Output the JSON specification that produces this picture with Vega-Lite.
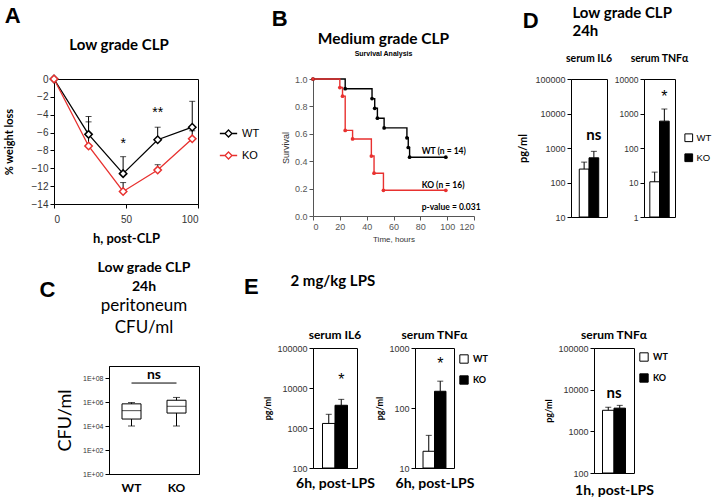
{
  "$schema": "https://vega.github.io/schema/vega-lite/v6.json",
  "background": "white",
  "padding": {"left": 2, "top": 4, "right": 2, "bottom": 2},
  "config": {
    "view": {"stroke": "black", "strokeWidth": 1},
    "font": "Liberation Sans",
    "axis": {"grid": false, "domainColor": "black", "tickColor": "black", "labelColor": "#333", "labelFont": "Liberation Sans", "labelFontSize": 9, "tickSize": 4, "labelOverlap": false, "titleFont": "Lato", "titleFontWeight": "bold", "titleColor": "black"},
    "title": {"font": "Lato", "fontWeight": "bold", "color": "black", "fontSize": 14, "subtitleColor": "black"},
    "legend": {"labelFont": "Liberation Sans", "labelFontSize": 10, "labelColor": "black"}
  },
  "resolve": {"scale": {"fill": "independent", "stroke": "independent", "color": "independent"}, "legend": {"fill": "independent", "stroke": "independent", "color": "independent"}},
  "spacing": -16,
  "hconcat": [
    {
      "spacing": 14,
      "resolve": {"scale": {"fill": "independent", "stroke": "independent", "color": "independent"}, "legend": {"fill": "independent", "stroke": "independent", "color": "independent"}},
      "vconcat": [
        {
          "title": {"text": "A", "orient": "left", "anchor": "end", "angle": 0, "align": "right", "baseline": "top", "fontSize": 22, "font": "Liberation Sans", "offset": -34, "dy": -32},
          "vconcat": [
            {
              "width": 144, "height": 125,
              "title": {"text": "Low grade CLP", "fontSize": 15, "offset": 19, "frame": "group", "dx": -7},
              "data": {"values": [
                {"t": 0, "g": "WT", "m": 0, "hi": 0},
                {"t": 24, "g": "WT", "m": -6.2, "hi": -4.2},
                {"t": 48, "g": "WT", "m": -10.6, "hi": -8.7},
                {"t": 72, "g": "WT", "m": -6.8, "hi": -5.4},
                {"t": 96, "g": "WT", "m": -5.4, "hi": -2.5},
                {"t": 0, "g": "KO", "m": 0, "hi": 0},
                {"t": 24, "g": "KO", "m": -7.5, "hi": -4.8},
                {"t": 48, "g": "KO", "m": -12.6, "hi": -11.6},
                {"t": 72, "g": "KO", "m": -10.2, "hi": -9.6},
                {"t": 96, "g": "KO", "m": -6.7, "hi": -5.8}
              ]},
              "encoding": {
                "x": {"field": "t", "type": "quantitative", "scale": {"domain": [0, 100]}, "axis": {"values": [0, 50, 100], "title": "h, post-CLP", "titleFontSize": 13, "titlePadding": 8, "labelFontSize": 10, "labelPadding": 6}}
              },
              "layer": [
                {"mark": {"type": "rule", "color": "black"}, "encoding": {"y": {"field": "m", "type": "quantitative", "title": "% weight loss", "scale": {"domain": [-14, 0]}, "axis": {"values": [-14, -12, -10, -8, -6, -4, -2, 0], "labelOverlap": false, "titleFontSize": 11, "labelFontSize": 10, "titlePadding": 17}}, "y2": {"field": "hi"}}},
                {"mark": {"type": "tick", "orient": "horizontal", "color": "black", "size": 6, "thickness": 1}, "encoding": {"y": {"field": "hi", "type": "quantitative", "title": "% weight loss", "axis": {"values": [-14, -12, -10, -8, -6, -4, -2, 0], "labelOverlap": false, "titleFontSize": 11, "labelFontSize": 10, "titlePadding": 17}}}},
                {"mark": {"type": "line", "strokeWidth": 1.3}, "encoding": {"y": {"field": "m", "type": "quantitative", "title": "% weight loss", "axis": {"values": [-14, -12, -10, -8, -6, -4, -2, 0], "labelOverlap": false, "titleFontSize": 11, "labelFontSize": 10, "titlePadding": 17}}, "stroke": {"field": "g", "type": "nominal", "scale": {"domain": ["WT", "KO"], "range": ["black", "#e8312f"]}, "legend": {"title": null, "orient": "none", "legendX": 165, "legendY": 45, "symbolType": "M-1,0H-0.4M0.4,0H1M0,-0.4L0.4,0L0,0.4L-0.4,0Z", "symbolSize": 300, "symbolFillColor": "white", "symbolStrokeWidth": 1.3, "labelFontSize": 11, "rowPadding": 6}}}},
                {"mark": {"type": "point", "shape": "diamond", "filled": true, "fill": "white", "size": 55, "strokeWidth": 1.5, "opacity": 1}, "encoding": {"y": {"field": "m", "type": "quantitative", "title": "% weight loss", "axis": {"values": [-14, -12, -10, -8, -6, -4, -2, 0], "labelOverlap": false, "titleFontSize": 11, "labelFontSize": 10, "titlePadding": 17}}, "stroke": {"field": "g", "type": "nominal", "scale": {"domain": ["WT", "KO"], "range": ["black", "#e8312f"]}, "legend": {"title": null, "orient": "none", "legendX": 165, "legendY": 45, "symbolType": "M-1,0H-0.4M0.4,0H1M0,-0.4L0.4,0L0,0.4L-0.4,0Z", "symbolSize": 300, "symbolFillColor": "white", "symbolStrokeWidth": 1.3, "labelFontSize": 11, "rowPadding": 6}}}},
                {"data": {"values": [{"t": 48, "y": -7.3, "s": "*"}, {"t": 72, "y": -3.8, "s": "**"}]}, "mark": {"type": "text", "fontSize": 14, "font": "Liberation Sans"}, "encoding": {"y": {"field": "y", "type": "quantitative", "title": "% weight loss", "axis": {"values": [-14, -12, -10, -8, -6, -4, -2, 0], "labelOverlap": false, "titleFontSize": 11, "labelFontSize": 10, "titlePadding": 17}}, "text": {"field": "s"}}}
              ]
            }
          ]
        },
        {
          "spacing": 0,
          "resolve": {"scale": {"fill": "independent", "stroke": "independent", "color": "independent"}, "legend": {"fill": "independent", "stroke": "independent", "color": "independent"}},
          "hconcat": [
            {
              "width": 1, "height": 1,
              "view": {"stroke": null},
              "title": {"text": "C", "fontSize": 22, "font": "Liberation Sans", "offset": 64, "dx": -7},
              "mark": {"type": "text"},
              "encoding": {"text": {"value": ""}}
            },
            {
              "width": 90, "height": 108,
              "title": {"text": ["Low grade CLP", "24h"], "fontSize": 14, "lineHeight": 19, "subtitle": ["peritoneum", "CFU/ml"], "subtitleFont": "Lato", "subtitleFontSize": 17, "subtitleLineHeight": 22, "subtitleColor": "black", "subtitlePadding": 4, "offset": 30, "frame": "group", "dx": -10},
              "data": {"values": [
                {"g": "WT", "mn": 10000, "q1": 38000, "md": 190000, "q3": 700000, "mx": 900000},
                {"g": "KO", "mn": 10000, "q1": 120000, "md": 440000, "q3": 1400000, "mx": 2400000}
              ]},
              "encoding": {"x": {"field": "g", "type": "nominal", "scale": {"domain": ["WT", "KO"], "paddingInner": 0, "paddingOuter": 0}, "axis": {"title": null, "labelAngle": 0, "labelFont": "Lato", "labelFontWeight": "bold", "labelFontSize": 12, "labelColor": "black", "ticks": false, "labelPadding": 8}}},
              "layer": [
                {"mark": {"type": "rule", "color": "black"}, "encoding": {"y": {"field": "mn", "type": "quantitative", "title": "CFU/ml", "scale": {"type": "log", "domain": [1, 1000000000]}, "axis": {"values": [1, 100, 10000, 1000000, 100000000], "labelExpr": "'1E+' + (round(log(datum.value)/LN10) < 10 ? '0' : '') + round(log(datum.value)/LN10)", "labelFontSize": 7, "titleFont": "Lato", "titleFontWeight": "normal", "titleFontSize": 18, "titlePadding": 8}}, "y2": {"field": "mx"}}},
                {"mark": {"type": "bar", "fill": "white", "stroke": "black", "strokeWidth": 1, "size": 19}, "encoding": {"y": {"field": "q1", "type": "quantitative", "title": "CFU/ml"}, "y2": {"field": "q3"}}},
                {"mark": {"type": "tick", "orient": "horizontal", "color": "black", "size": 19, "thickness": 1}, "encoding": {"y": {"field": "md", "type": "quantitative", "title": "CFU/ml"}}},
                {"mark": {"type": "tick", "orient": "horizontal", "color": "black", "size": 7, "thickness": 1}, "encoding": {"y": {"field": "mn", "type": "quantitative", "title": "CFU/ml"}}},
                {"mark": {"type": "tick", "orient": "horizontal", "color": "black", "size": 7, "thickness": 1}, "encoding": {"y": {"field": "mx", "type": "quantitative", "title": "CFU/ml"}}},
                {"data": {"values": [{"g": "WT", "b": "KO", "y": 38000000, "s": "ns"}]}, "layer": [
                  {"mark": {"type": "rule", "color": "black"}, "encoding": {"x2": {"field": "b"}, "y": {"field": "y", "type": "quantitative", "title": "CFU/ml"}}},
                  {"mark": {"type": "text", "font": "Lato", "fontWeight": "bold", "fontSize": 14, "baseline": "bottom", "dy": -1}, "encoding": {"x": {"field": "g", "type": "nominal", "bandPosition": 1}, "y": {"field": "y", "type": "quantitative", "title": "CFU/ml"}, "text": {"field": "s"}}}
                ]}
              ]
            }
          ]
        }
      ]
    },
    {
      "spacing": 30,
      "resolve": {"scale": {"fill": "independent", "stroke": "independent", "color": "independent"}, "legend": {"fill": "independent", "stroke": "independent", "color": "independent"}},
      "vconcat": [
        {
          "spacing": 36,
          "resolve": {"scale": {"fill": "independent", "stroke": "independent", "color": "independent"}, "legend": {"fill": "independent", "stroke": "independent", "color": "independent"}},
          "hconcat": [
            {
              "title": {"text": "B", "orient": "left", "anchor": "end", "angle": 0, "align": "right", "baseline": "top", "fontSize": 22, "font": "Liberation Sans", "offset": -22, "dy": -23},
              "vconcat": [
                {
                  "width": 161, "height": 137,
                  "view": {"stroke": null},
                  "title": {"text": "Medium grade CLP", "fontSize": 15.5, "dx": -10, "subtitle": "Survival Analysis", "subtitleFontSize": 7, "subtitleFontWeight": "bold", "subtitleFont": "Liberation Sans", "subtitlePadding": 3, "offset": 18},
                  "data": {"values": [
                    {"t": 0, "v": 1, "g": "WT"}, {"t": 24, "v": 0.929, "g": "WT"}, {"t": 44, "v": 0.857, "g": "WT"}, {"t": 46, "v": 0.786, "g": "WT"}, {"t": 48, "v": 0.714, "g": "WT"}, {"t": 53, "v": 0.643, "g": "WT"}, {"t": 70, "v": 0.571, "g": "WT"}, {"t": 71, "v": 0.5, "g": "WT"}, {"t": 72, "v": 0.429, "g": "WT"}, {"t": 99, "v": 0.429, "g": "WT"},
                    {"t": 0, "v": 1, "g": "KO"}, {"t": 20, "v": 0.9375, "g": "KO"}, {"t": 22, "v": 0.875, "g": "KO"}, {"t": 24, "v": 0.625, "g": "KO"}, {"t": 29.5, "v": 0.5625, "g": "KO"}, {"t": 43.5, "v": 0.4375, "g": "KO"}, {"t": 45.5, "v": 0.3125, "g": "KO"}, {"t": 52.5, "v": 0.1875, "g": "KO"}, {"t": 99, "v": 0.1875, "g": "KO"}
                  ]},
                  "encoding": {
                    "x": {"field": "t", "type": "quantitative", "scale": {"domain": [0, 120]}, "axis": {"values": [0, 20, 40, 60, 80, 100, 120], "title": "Time, hours", "titleFont": "Liberation Sans", "titleFontWeight": "normal", "titleFontSize": 8, "titleColor": "#333", "titlePadding": 4, "domainColor": "#555", "tickColor": "#555", "labelColor": "#555", "labelFontSize": 9}},
                    "y": {"field": "v", "type": "quantitative", "scale": {"domain": [0, 1]}, "axis": {"values": [0, 0.2, 0.4, 0.6, 0.8, 1], "format": ".1f", "title": "Survival", "titleFont": "Liberation Sans", "titleFontWeight": "normal", "titleFontSize": 9, "titleColor": "#333", "titlePadding": 4, "domainColor": "#555", "tickColor": "#555", "labelColor": "#555", "labelFontSize": 9}},
                    "color": {"field": "g", "type": "nominal", "scale": {"domain": ["WT", "KO"], "range": ["black", "#e8312f"]}, "legend": null}
                  },
                  "layer": [
                    {"mark": {"type": "line", "interpolate": "step-after", "strokeWidth": 1.4}},
                    {"mark": {"type": "circle", "size": 14, "opacity": 1}},
                    {"data": {"values": [{"t": 81, "v": 0.474, "s": "WT (n = 14)"}, {"t": 81, "v": 0.226, "s": "KO (n = 16)"}, {"t": 81, "v": 0.066, "s": "p-value = 0.031"}]}, "mark": {"type": "text", "align": "left", "font": "Lato", "fontWeight": "bold", "fontSize": 8.5, "color": "black"}, "encoding": {"text": {"field": "s"}, "color": {"value": "black"}}}
                  ]
                }
              ]
            },
            {
              "title": {"text": "D", "orient": "left", "anchor": "end", "angle": 0, "align": "right", "baseline": "top", "fontSize": 22, "font": "Liberation Sans", "offset": -37, "dy": 5},
              "vconcat": [
                {
                  "title": {"text": ["Low grade CLP", "24h"], "fontSize": 15, "lineHeight": 18, "offset": 14, "dx": 55},
                  "spacing": 0,
                  "resolve": {"scale": {"fill": "independent", "stroke": "independent", "color": "independent"}, "legend": {"fill": "independent", "stroke": "independent", "color": "independent"}},
                  "hconcat": [
                    {
                      "width": 36, "height": 138,
                      "title": {"text": "serum IL6", "fontSize": 10.5, "offset": 11},
                      "data": {"values": [{"g": "WT", "v": 245, "hi": 390}, {"g": "KO", "v": 520, "hi": 800}]},
                      "encoding": {"x": {"field": "g", "type": "nominal", "scale": {"domain": ["WT", "KO"], "paddingInner": 0, "paddingOuter": 0.85}, "axis": null}},
                      "layer": [
                        {"mark": {"type": "bar", "stroke": "black", "strokeWidth": 1}, "encoding": {"y": {"field": "v", "type": "quantitative", "title": "pg/ml", "scale": {"type": "log", "domain": [10, 100000]}, "axis": {"values": [10, 100, 1000, 10000, 100000], "format": "d", "titleFontSize": 11, "titlePadding": 6}}, "y2": {"datum": 10}, "fill": {"field": "g", "type": "nominal", "scale": {"domain": ["WT", "KO"], "range": ["white", "black"]}, "legend": null}}},
                        {"mark": {"type": "rule", "color": "black"}, "encoding": {"y": {"field": "v", "type": "quantitative", "title": "pg/ml"}, "y2": {"field": "hi"}}},
                        {"mark": {"type": "tick", "orient": "horizontal", "color": "black", "size": 6, "thickness": 1}, "encoding": {"y": {"field": "hi", "type": "quantitative", "title": "pg/ml"}}},
                        {"data": {"values": [{"g": "KO", "v": 2400, "s": "ns"}]}, "mark": {"type": "text", "fontSize": 15, "font": "Lato", "fontWeight": "bold"}, "encoding": {"y": {"field": "v", "type": "quantitative", "title": "pg/ml"}, "text": {"field": "s"}}}
                      ]
                    },
                    {
                      "width": 31, "height": 138,
                      "title": {"text": "serum TNFα", "fontSize": 10.5, "offset": 11},
                      "data": {"values": [{"g": "WT", "v": 10.5, "hi": 20}, {"g": "KO", "v": 600, "hi": 1350}]},
                      "encoding": {"x": {"field": "g", "type": "nominal", "scale": {"domain": ["WT", "KO"], "paddingInner": 0, "paddingOuter": 0.6}, "axis": null}},
                      "layer": [
                        {"mark": {"type": "bar", "stroke": "black", "strokeWidth": 1}, "encoding": {"y": {"field": "v", "type": "quantitative", "title": null, "scale": {"type": "log", "domain": [1, 10000]}, "axis": {"values": [1, 10, 100, 1000, 10000], "format": "d", "labelFontSize": 8.5}}, "y2": {"datum": 1}, "fill": {"field": "g", "type": "nominal", "scale": {"domain": ["WT", "KO"], "range": ["white", "black"]}, "legend": {"title": null, "orient": "none", "legendX": 40, "legendY": 54, "symbolType": "square", "symbolSize": 60, "symbolStrokeColor": "black", "symbolStrokeWidth": 1, "labelFontSize": 9.5, "labelOffset": 3, "rowPadding": 7}}}},
                        {"mark": {"type": "rule", "color": "black"}, "encoding": {"y": {"field": "v", "type": "quantitative", "title": null}, "y2": {"field": "hi"}}},
                        {"mark": {"type": "tick", "orient": "horizontal", "color": "black", "size": 6, "thickness": 1}, "encoding": {"y": {"field": "hi", "type": "quantitative", "title": null}}},
                        {"data": {"values": [{"g": "KO", "v": 3000, "s": "*"}]}, "mark": {"type": "text", "fontSize": 16, "font": "Liberation Sans"}, "encoding": {"y": {"field": "v", "type": "quantitative", "title": null}, "text": {"field": "s"}}}
                      ]
                    }
                  ]
                }
              ]
            }
          ]
        },
        {
          "title": {"text": "E", "orient": "left", "anchor": "end", "angle": 0, "align": "right", "baseline": "top", "fontSize": 22, "font": "Liberation Sans", "offset": -10, "dy": 3},
          "vconcat": [
            {
              "title": {"text": "2 mg/kg LPS", "anchor": "start", "fontSize": 15, "offset": 40, "dx": 27},
              "spacing": 55,
              "resolve": {"scale": {"fill": "independent", "stroke": "independent", "color": "independent"}, "legend": {"fill": "independent", "stroke": "independent", "color": "independent"}},
              "hconcat": [
                {
                  "spacing": 0,
                  "resolve": {"scale": {"fill": "independent", "stroke": "independent", "color": "independent"}, "legend": {"fill": "independent", "stroke": "independent", "color": "independent"}},
                  "hconcat": [
                    {
                      "width": 44, "height": 120,
                      "title": {"text": "serum IL6", "fontSize": 12, "offset": 2},
                      "data": {"values": [{"g": "WT", "v": 1300, "hi": 2200}, {"g": "KO", "v": 3700, "hi": 5200}]},
                      "encoding": {"x": {"field": "g", "type": "nominal", "scale": {"domain": ["WT", "KO"], "paddingInner": 0, "paddingOuter": 0.76}, "axis": {"title": "6h, post-LPS", "labels": false, "ticks": false, "domain": false, "titleFontSize": 14, "titlePadding": 8}}},
                      "layer": [
                        {"mark": {"type": "bar", "stroke": "black", "strokeWidth": 1}, "encoding": {"y": {"field": "v", "type": "quantitative", "title": "pg/ml", "scale": {"type": "log", "domain": [100, 100000]}, "axis": {"values": [100, 1000, 10000, 100000], "format": "d", "titleFontSize": 9, "titlePadding": 4}}, "y2": {"datum": 100}, "fill": {"field": "g", "type": "nominal", "scale": {"domain": ["WT", "KO"], "range": ["white", "black"]}, "legend": null}}},
                        {"mark": {"type": "rule", "color": "black"}, "encoding": {"y": {"field": "v", "type": "quantitative", "title": "pg/ml"}, "y2": {"field": "hi"}}},
                        {"mark": {"type": "tick", "orient": "horizontal", "color": "black", "size": 6, "thickness": 1}, "encoding": {"y": {"field": "hi", "type": "quantitative", "title": "pg/ml"}}},
                        {"data": {"values": [{"g": "KO", "v": 16000, "s": "*"}]}, "mark": {"type": "text", "fontSize": 16, "font": "Liberation Sans"}, "encoding": {"y": {"field": "v", "type": "quantitative", "title": "pg/ml"}, "text": {"field": "s"}}}
                      ]
                    },
                    {
                      "width": 39, "height": 120,
                      "title": {"text": "serum TNFα", "fontSize": 12, "offset": 2},
                      "data": {"values": [{"g": "WT", "v": 19, "hi": 35}, {"g": "KO", "v": 190, "hi": 280}]},
                      "encoding": {"x": {"field": "g", "type": "nominal", "scale": {"domain": ["WT", "KO"], "paddingInner": 0, "paddingOuter": 0.7}, "axis": {"title": "6h, post-LPS", "labels": false, "ticks": false, "domain": false, "titleFontSize": 14, "titlePadding": 8}}},
                      "layer": [
                        {"mark": {"type": "bar", "stroke": "black", "strokeWidth": 1}, "encoding": {"y": {"field": "v", "type": "quantitative", "title": "pg/ml", "scale": {"type": "log", "domain": [10, 1000]}, "axis": {"values": [10, 100, 1000], "format": "d", "titleFontSize": 9, "titlePadding": 4}}, "y2": {"datum": 10}, "fill": {"field": "g", "type": "nominal", "scale": {"domain": ["WT", "KO"], "range": ["white", "black"]}, "legend": {"title": null, "orient": "none", "legendX": 44, "legendY": 6, "symbolType": "square", "symbolSize": 70, "symbolStrokeColor": "black", "symbolStrokeWidth": 1, "labelFontSize": 9, "labelFont": "Lato", "labelFontWeight": "bold", "rowPadding": 7}}}},
                        {"mark": {"type": "rule", "color": "black"}, "encoding": {"y": {"field": "v", "type": "quantitative", "title": "pg/ml"}, "y2": {"field": "hi"}}},
                        {"mark": {"type": "tick", "orient": "horizontal", "color": "black", "size": 6, "thickness": 1}, "encoding": {"y": {"field": "hi", "type": "quantitative", "title": "pg/ml"}}},
                        {"data": {"values": [{"g": "KO", "v": 540, "s": "*"}]}, "mark": {"type": "text", "fontSize": 16, "font": "Liberation Sans"}, "encoding": {"y": {"field": "v", "type": "quantitative", "title": "pg/ml"}, "text": {"field": "s"}}}
                      ]
                    }
                  ]
                },
                {
                  "width": 40, "height": 125,
                  "title": {"text": "serum TNFα", "fontSize": 12, "offset": 2},
                  "data": {"values": [{"g": "WT", "v": 3200, "hi": 3800}, {"g": "KO", "v": 3600, "hi": 4200}]},
                  "encoding": {"x": {"field": "g", "type": "nominal", "scale": {"domain": ["WT", "KO"], "paddingInner": 0, "paddingOuter": 0.74}, "axis": {"title": "1h, post-LPS", "labels": false, "ticks": false, "domain": false, "titleFontSize": 14, "titlePadding": 10}}},
                  "layer": [
                    {"mark": {"type": "bar", "stroke": "black", "strokeWidth": 1}, "encoding": {"y": {"field": "v", "type": "quantitative", "title": "pg/ml", "scale": {"type": "log", "domain": [100, 100000]}, "axis": {"values": [100, 1000, 10000, 100000], "format": "d", "titleFontSize": 9, "titlePadding": 4}}, "y2": {"datum": 100}, "fill": {"field": "g", "type": "nominal", "scale": {"domain": ["WT", "KO"], "range": ["white", "black"]}, "legend": {"title": null, "orient": "none", "legendX": 45, "legendY": 4, "symbolType": "square", "symbolSize": 70, "symbolStrokeColor": "black", "symbolStrokeWidth": 1, "labelFontSize": 9, "labelFont": "Lato", "labelFontWeight": "bold", "rowPadding": 7}}}},
                    {"mark": {"type": "rule", "color": "black"}, "encoding": {"y": {"field": "v", "type": "quantitative", "title": "pg/ml"}, "y2": {"field": "hi"}}},
                    {"mark": {"type": "tick", "orient": "horizontal", "color": "black", "size": 6, "thickness": 1}, "encoding": {"y": {"field": "hi", "type": "quantitative", "title": "pg/ml"}}},
                    {"data": {"values": [{"g": "WT", "v": 8500, "s": "ns"}]}, "mark": {"type": "text", "fontSize": 15, "font": "Lato", "fontWeight": "bold"}, "encoding": {"x": {"field": "g", "type": "nominal", "bandPosition": 1}, "y": {"field": "v", "type": "quantitative", "title": "pg/ml"}, "text": {"field": "s"}}}
                  ]
                }
              ]
            }
          ]
        }
      ]
    }
  ]
}
